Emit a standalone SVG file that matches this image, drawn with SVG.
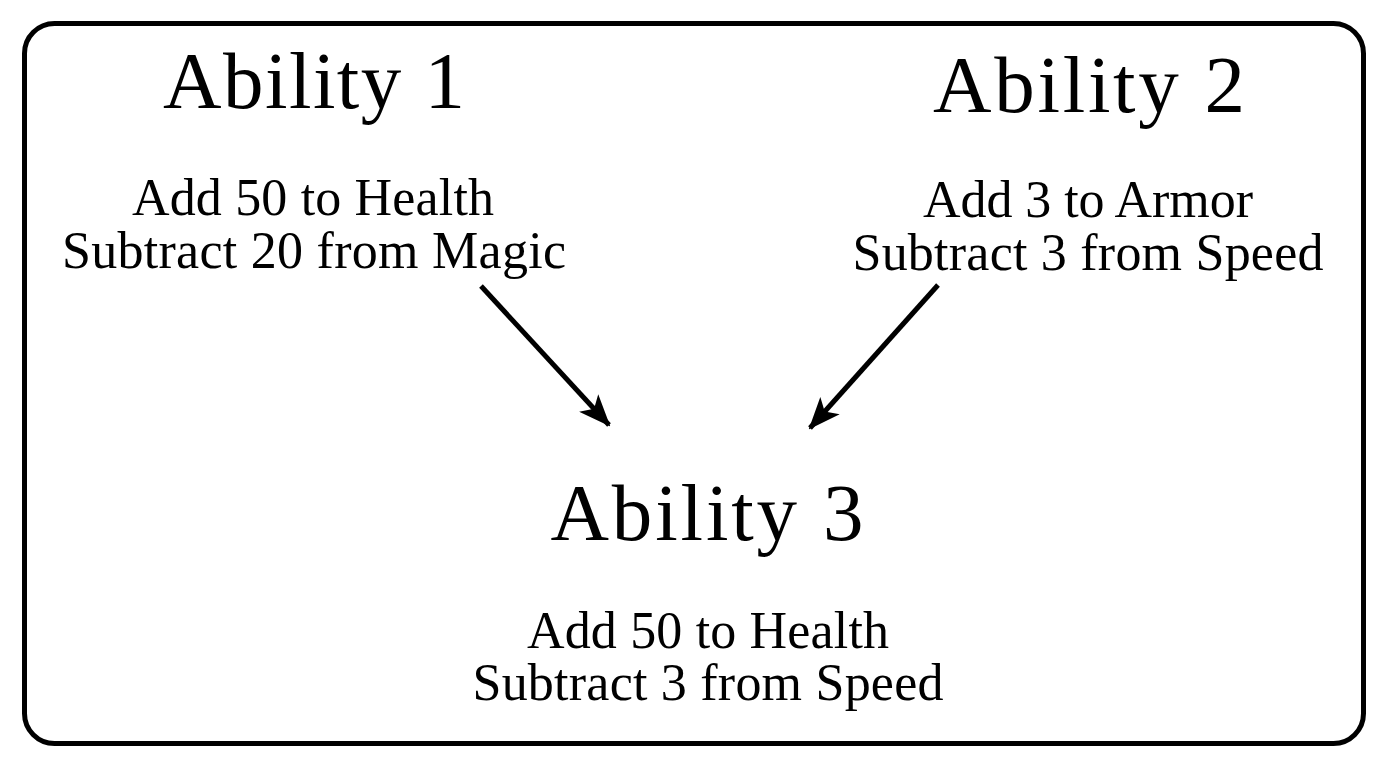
<svg xmlns="http://www.w3.org/2000/svg" width="1392" height="768" viewBox="0 0 1392 768">
<style>
text{font-family:"Liberation Serif","DejaVu Serif",serif;fill:#000;text-anchor:middle}
.t{font-size:81px}
.s{font-size:52px}
.c{stroke:#000;stroke-width:5;fill:none}
</style>
<defs>
<marker id="ah" markerUnits="userSpaceOnUse" viewBox="0 0 32 26" refX="30" refY="13" markerWidth="32" markerHeight="26" orient="auto">
<path d="M0,0 L32,13 L0,26 L8,13 Z" fill="#000"/>
</marker>
</defs>
<rect x="24.5" y="23.5" width="1339" height="720" rx="30" ry="30" fill="#fff" stroke="#000" stroke-width="5"/>
<g id="ability1">
<text class="t" x="314" y="108" textLength="302" lengthAdjust="spacing">Ability 1</text>
<text class="s" x="313" y="215" textLength="362" lengthAdjust="spacing">Add 50 to Health</text>
<text class="s" x="314" y="268" textLength="504" lengthAdjust="spacing">Subtract 20 from Magic</text>
</g>
<g id="ability2">
<text class="t" x="1089" y="112" textLength="312" lengthAdjust="spacing">Ability 2</text>
<text class="s" x="1088" y="217" textLength="330" lengthAdjust="spacing">Add 3 to Armor</text>
<text class="s" x="1088" y="270" textLength="471" lengthAdjust="spacing">Subtract 3 from Speed</text>
</g>
<g id="ability3">
<text class="t" x="707" y="540" textLength="313" lengthAdjust="spacing">Ability 3</text>
<text class="s" x="708" y="648" textLength="362" lengthAdjust="spacing">Add 50 to Health</text>
<text class="s" x="708" y="700" textLength="471" lengthAdjust="spacing">Subtract 3 from Speed</text>
</g>
<g id="connectors">
<line class="c" x1="481" y1="286" x2="609" y2="425" marker-end="url(#ah)"/>
<line class="c" x1="938" y1="285" x2="810" y2="428" marker-end="url(#ah)"/>
</g>
</svg>
